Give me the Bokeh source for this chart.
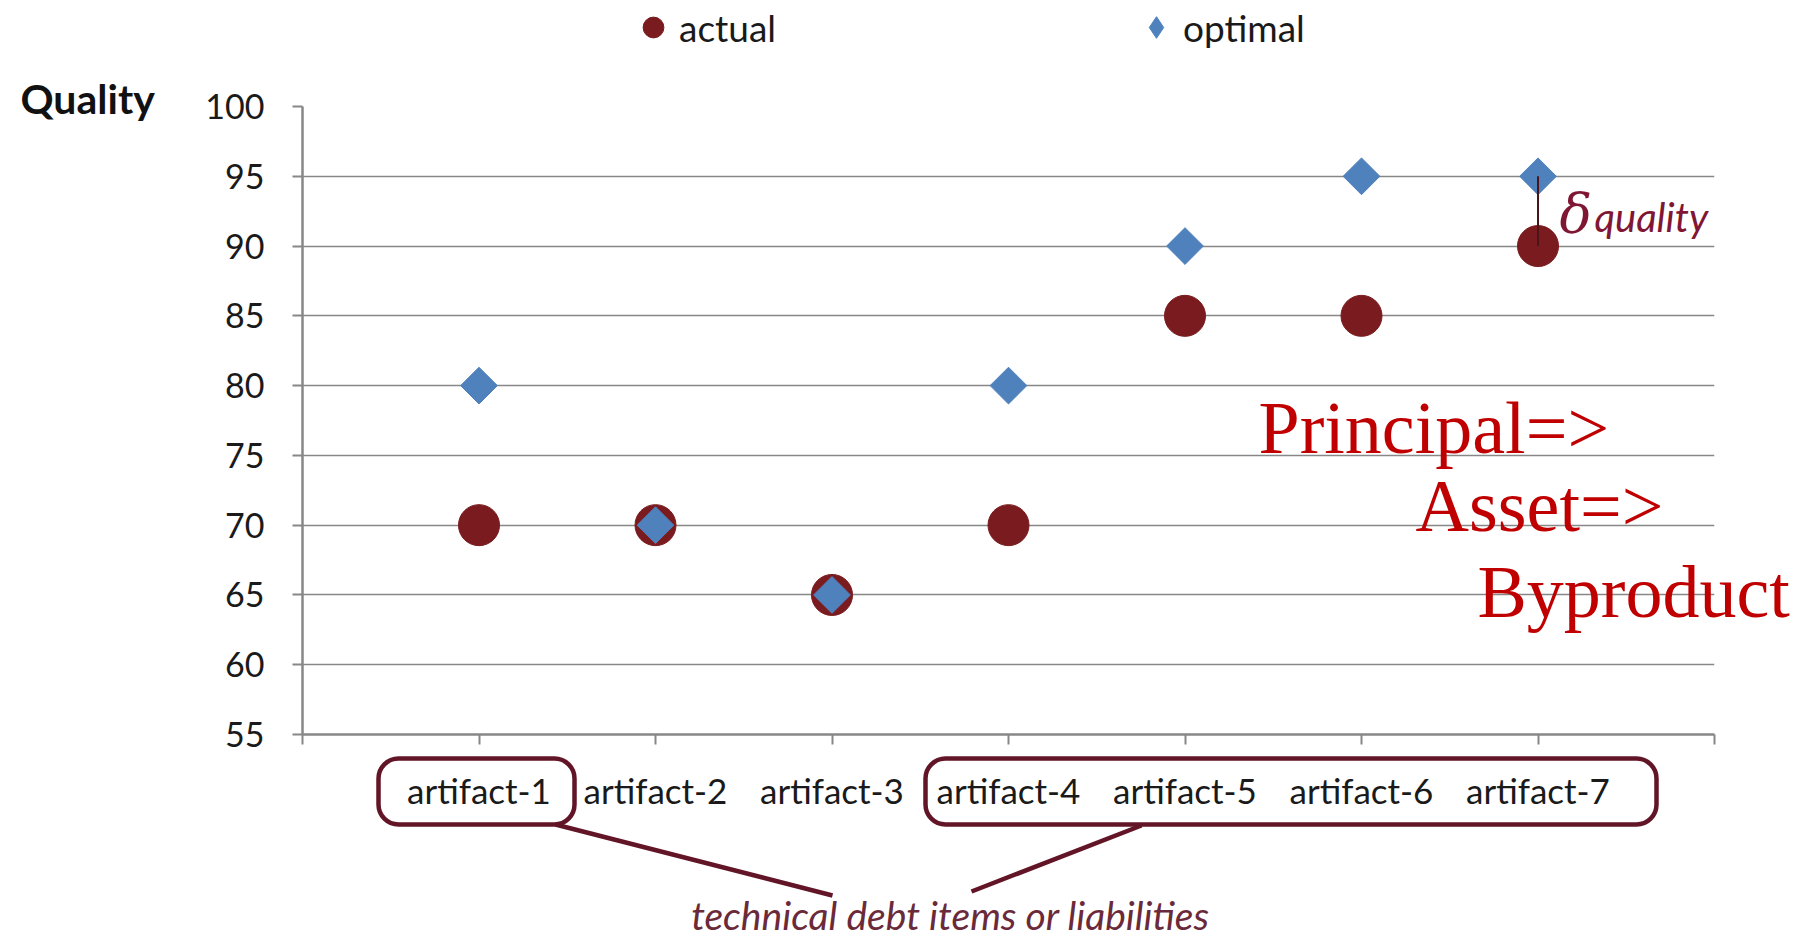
from bokeh.plotting import figure
from bokeh.models import (Range1d, FixedTicker, Label, BoxAnnotation,
                          Legend, LegendItem, ColumnDataSource)
from bokeh.embed import file_html
from bokeh.resources import INLINE
import math

# ---------------- data ----------------
categories = ["artifact-1", "artifact-2", "artifact-3", "artifact-4",
              "artifact-5", "artifact-6", "artifact-7"]
actual = [70, 70, 65, 70, 85, 85, 90]
optimal = [80, 70, 65, 80, 90, 95, 95]
y_ticks = [55, 60, 65, 70, 75, 80, 85, 90, 95, 100]
series_names = ["actual", "optimal"]
positions = list(range(1, len(categories) + 1))

W, H = 1807, 937
FL, FR, FT, FB = 302, 1714, 106, 734   # frame edges in canvas px
X0, X1 = 0, len(categories) + 1
Y0, Y1 = 55, 100

ACT = "#7a1c1f"
OPT = "#4f81bd"
GRID = "#878787"
TXT = "#1a1a1a"
DARK = "#621527"
RED = "#c00000"
DELTA = "#7f1734"

# ---------------- main chart ----------------
p = figure(width=W, height=H, output_backend="svg", toolbar_location=None,
           x_range=Range1d(X0, X1), y_range=Range1d(Y0, Y1),
           min_border_left=FL, min_border_right=W - FR,
           min_border_top=FT, min_border_bottom=H - FB)
p.outline_line_color = None
p.background_fill_color = "white"
p.border_fill_color = "white"
p.xgrid.visible = False
p.ygrid.grid_line_color = GRID
p.ygrid.grid_line_width = 1.6
p.ygrid.ticker = FixedTicker(ticks=y_ticks)

ya = p.yaxis[0]
ya.ticker = FixedTicker(ticks=y_ticks)
ya.axis_line_color = GRID
ya.axis_line_width = 2.5
ya.major_tick_line_color = GRID
ya.major_tick_line_width = 2
ya.major_tick_out = 10
ya.major_tick_in = 0
ya.minor_tick_line_color = None
ya.major_label_text_font = "Lato"
ya.major_label_text_font_size = "34px"
ya.major_label_text_color = TXT
ya.major_label_standoff = 28

xa = p.xaxis[0]
xa.ticker = FixedTicker(ticks=list(range(X0, X1 + 1)))
overrides = {X0: "", X1: ""}
for pos, c in zip(positions, categories):
    overrides[pos] = c
xa.major_label_overrides = overrides
xa.axis_line_color = GRID
xa.axis_line_width = 2.5
xa.major_tick_line_color = GRID
xa.major_tick_line_width = 2
xa.major_tick_out = 10
xa.major_tick_in = 0
xa.minor_tick_line_color = None
xa.major_label_text_font = "Lato"
xa.major_label_text_font_size = "35px"
xa.major_label_text_color = TXT
xa.major_label_standoff = 24

src = ColumnDataSource(dict(x=positions, actual=actual, optimal=optimal))

p.scatter("x", "actual", source=src, marker="circle", size=41,
          fill_color=ACT, line_color=ACT, line_width=1)
p.scatter("x", "optimal", source=src, marker="square", size=26,
          angle=math.pi / 4, fill_color=OPT, line_color=OPT, line_width=1)

last = len(categories) - 1
p.segment(x0=[positions[last]], y0=[optimal[last]], x1=[positions[last]],
          y1=[actual[last]], line_color="#4a1418", line_width=2)

# ---------------- transparent overlay (canvas pixel coords, y down) ----------------
q = figure(width=W, height=H, output_backend="svg", toolbar_location=None,
           x_range=Range1d(0, W), y_range=Range1d(H, 0),
           x_axis_location=None, y_axis_location=None,
           min_border_left=0, min_border_right=0, min_border_top=0, min_border_bottom=0)
q.outline_line_color = None
q.background_fill_alpha = 0
q.border_fill_alpha = 0
q.grid.visible = False
q.styles = {"position": "absolute", "left": "0px", "top": "0px", "z-index": "5"}

# hidden renderers that only feed the legend glyphs
leg_src = ColumnDataSource(dict(x=[-100], y=[-100]))
h_act = q.scatter("x", "y", source=leg_src, marker="circle", size=10,
                  fill_color=ACT, line_color=ACT, visible=False)
h_opt = q.scatter("x", "y", source=leg_src, marker="diamond", size=10,
                  fill_color=OPT, line_color=OPT, visible=False)

for name, rend, left, box in [(series_names[0], h_act, 627, 52),
                              (series_names[1], h_opt, 1129, 54)]:
    lg = Legend(items=[LegendItem(label=name, renderers=[rend])],
                location=(left, H - (27 - box / 2) - box), glyph_width=box,
                glyph_height=box, label_standoff=0, padding=0, margin=0,
                border_line_color=None, background_fill_alpha=0,
                inactive_fill_alpha=0, label_text_font="Lato",
                label_text_font_size="37px", label_text_color=TXT,
                label_height=box)
    q.add_layout(lg)

q.add_layout(Label(x=20, y=98, text="Quality", text_font="Lato",
                   text_font_style="bold", text_font_size="41px",
                   text_color="#111111", text_baseline="middle", text_align="left"))

q.add_layout(Label(x=1559, y=213, text="δ", text_font="DejaVu Serif",
                   text_font_style="italic", text_font_size="54px",
                   text_color=DELTA, text_baseline="alphabetic"))
q.add_layout(Label(x=1594, y=216, text="quality", text_font="Lato",
                   text_font_style="italic", text_font_size="40px",
                   text_color=DELTA, text_baseline="alphabetic"))

for txt, px, py in [("Principal=>", 1258, 427), ("Asset=>", 1415, 505),
                    ("Byproduct", 1477, 591)]:
    q.add_layout(Label(x=px, y=py, text=txt, text_font="Liberation Serif",
                       text_font_size="74px", text_color=RED,
                       text_baseline="alphabetic", text_align="left"))

for l, r in [(378, 574), (925, 1656)]:
    q.add_layout(BoxAnnotation(left=l, right=r, top=758, bottom=824,
                               fill_alpha=0, line_color=DARK, line_alpha=1,
                               line_width=4.5, border_radius=20))

q.segment(x0=[555, 1141], y0=[824, 825], x1=[832, 971], y1=[895, 891],
          line_color=DARK, line_width=4.5)

q.add_layout(Label(x=950, y=914, text="technical debt items or liabilities",
                   text_font="Lato", text_font_style="italic", text_font_size="39px",
                   text_color="#6b2a3a", text_baseline="middle", text_align="center"))

open("out.html", "w").write(file_html([p, q], INLINE))
